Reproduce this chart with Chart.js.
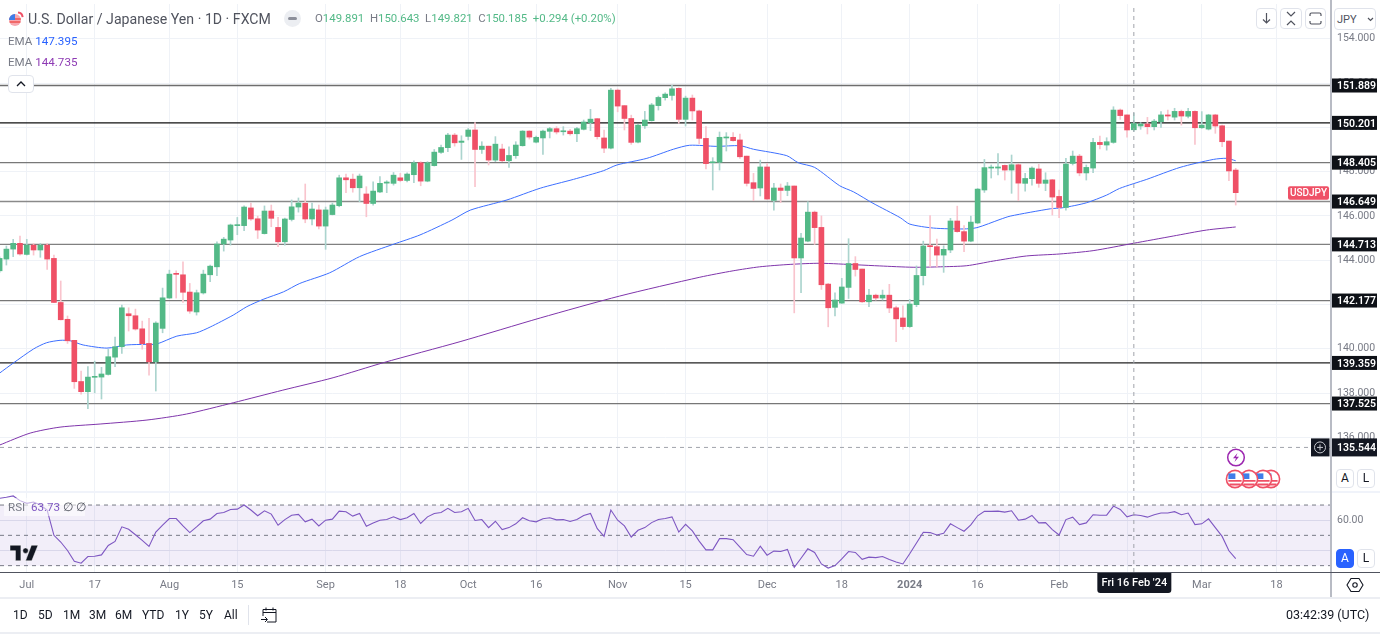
<!DOCTYPE html>
<html><head><meta charset="utf-8">
<script src="https://cdn.jsdelivr.net/npm/chart.js@4"></script>
<style>
html,body{margin:0;padding:0;background:#fff;width:1380px;height:634px;overflow:hidden;font-family:Roboto,"Liberation Sans",sans-serif;color:#131722}
canvas{position:absolute;left:0;display:block}
.t{position:absolute;white-space:pre;line-height:1}
.btn{position:absolute;box-sizing:border-box;background:#fff;border:1px solid #e0e3eb;border-radius:4px;text-align:center}
.ab{position:absolute;box-sizing:border-box;width:18px;height:19px;border:1px solid #e0e3eb;border-radius:4px;background:#fff;font-size:12px;line-height:17px;text-align:center;color:#131722}
svg{position:absolute;overflow:visible}
</style></head><body>
<canvas id="price" style="top:4px;width:1380px;height:488px" width="1380" height="488"></canvas>
<canvas id="rsi" style="top:492px;width:1380px;height:105px" width="1380" height="105"></canvas>

<div style="position:absolute;left:1330px;top:0;width:2px;height:597px;background:#b8bbc4"></div>
<div style="position:absolute;left:0;top:572px;width:1380px;height:1px;background:#50535e"></div>
<div style="position:absolute;left:0;top:491px;width:1330px;height:2px;background:#f0f3fa"></div>
<div style="position:absolute;left:1332px;top:491px;width:48px;height:2px;background:#f0f3fa"></div>
<div style="position:absolute;left:0;top:597px;width:1380px;height:2px;background:#eceef3"></div>
<div style="position:absolute;left:0;top:632px;width:1380px;height:2px;background:#eceef3"></div>

<svg style="left:8px;top:11px" width="16" height="16" viewBox="0 0 16 16">
<circle cx="7" cy="9" r="6" fill="#f7a8b0"/><path d="M1.2 8h11.6M1.6 11h10.8" stroke="#ef5350" stroke-width="1.4"/><path d="M1 9a6 6 0 0 1 6-6v6z" fill="#3f7de8"/>
<path d="M10 1.5a5 5 0 0 1 4.6 4.6" stroke="#ef5066" stroke-width="2" fill="none"/></svg>
<div class="t" style="left:28px;top:12px;font-size:14.15px;color:#50535e">U.S. Dollar / Japanese Yen · 1D · FXCM</div>
<div style="position:absolute;left:284px;top:10px;width:17px;height:17px;border-radius:50%;background:#eceef2"></div>
<div style="position:absolute;left:288px;top:17px;width:9px;height:3px;border-radius:2px;background:#8c8f9a"></div>
<div class="t" style="left:315px;top:13px;font-size:11.4px;color:#787b86">O<span style="color:#53b987">149.891</span>  H<span style="color:#53b987">150.643</span>  L<span style="color:#53b987">149.821</span>  C<span style="color:#53b987">150.185</span>  <span style="color:#53b987">+0.294 (+0.20%)</span></div>
<div class="t" style="left:8px;top:36px;font-size:11.6px;color:#787b86">EMA <span style="color:#2962ff">147.395</span></div>
<div class="t" style="left:8px;top:57px;font-size:11.6px;color:#787b86">EMA <span style="color:#8e3bb4">144.735</span></div>
<div class="btn" style="left:8px;top:75px;width:26px;height:18px"></div>
<svg style="left:16px;top:81px" width="10" height="6"><path d="M1 5l4-4 4 4" stroke="#131722" stroke-width="1.3" fill="none"/></svg>

<div class="btn" style="left:1256px;top:8px;width:21px;height:21px"></div>
<svg style="left:1256px;top:8px" width="21" height="21"><path d="M10.5 5v10M7 11.5l3.5 3.5 3.5-3.5" stroke="#50535e" stroke-width="1.2" fill="none"/></svg>
<div class="btn" style="left:1280px;top:8px;width:22px;height:21px"></div>
<svg style="left:1280px;top:8px" width="22" height="21"><path d="M7 4l4 4 4-4M7 17l4-4 4 4" stroke="#50535e" stroke-width="1.2" fill="none"/></svg>
<div class="btn" style="left:1305px;top:8px;width:21px;height:21px"></div>
<svg style="left:1305px;top:8px" width="21" height="21"><path d="M5 8V6.5A1.5 1.5 0 0 1 6.5 5h8A1.5 1.5 0 0 1 16 6.5V8M5 13v1.5A1.5 1.5 0 0 0 6.5 16h8a1.5 1.5 0 0 0 1.5-1.5V13" stroke="#50535e" stroke-width="1.2" fill="none"/></svg>
<div class="btn" style="left:1334px;top:8px;width:42px;height:22px"></div>
<div class="t" style="left:1337px;top:14px;font-size:11px;color:#50535e">JPY</div>
<svg style="left:1367px;top:17px" width="7" height="5"><path d="M1 1l2.5 2.5L6 1" stroke="#50535e" stroke-width="1.2" fill="none"/></svg>

<svg style="left:1226px;top:448px" width="20" height="20"><circle cx="10" cy="9.5" r="8.3" fill="#fff" stroke="#9c27b0" stroke-width="1.5"/><path d="M11.5 5L7 10.2h3L8.5 14l4.5-5.2h-3z" fill="#9c27b0"/></svg>
<svg id="flags" style="left:1222px;top:466px" width="62" height="26" viewBox="0 0 62 26">
<defs><g id="fl"><circle r="8.6" fill="#fff" stroke="#ef5066" stroke-width="1.6"/><path d="M-6.6 1h13.2v1.8h-13.2zM-5.6 4.6h11.2v1.8h-11.2z" fill="#ef5066"/><path d="M-6.6 -5.6h7v5.6h-7z" fill="#3f7de8"/></g></defs>
<use href="#fl" x="49" y="13"/><use href="#fl" x="41" y="13"/><use href="#fl" x="27" y="13"/><use href="#fl" x="13" y="13"/></svg>

<div class="ab" style="left:1336px;top:469px">A</div><div class="ab" style="left:1357px;top:469px">L</div>
<div class="ab" style="left:1336px;top:549px;background:#2962ff;border-color:#2962ff;color:#fff">A</div><div class="ab" style="left:1357px;top:549px">L</div>

<div style="position:absolute;left:4px;top:498px;width:81px;height:18px;background:rgba(255,255,255,.55)"></div>
<div class="t" style="left:8px;top:502px;font-size:11.6px;color:#787b86">RSI  <span style="color:#7e57c2">63.73</span> <span style="color:#50535e">∅ ∅</span></div>

<svg style="left:10px;top:545px" width="28" height="16" viewBox="0 0 36 20"><path d="M14 20H7V7H0V0h14zM28 20h-8L27.5 0H36zM20 3.5a3.5 3.5 0 1 0 0 7 3.5 3.5 0 0 0 0-7z" fill="#131722" stroke="#fff" stroke-width=".6"/></svg>

<svg style="left:1346px;top:576px" width="18" height="18" viewBox="0 0 18 18"><path d="M5 2.5h8l4 6.5-4 6.5H5L1 9z" fill="none" stroke="#131722" stroke-width="1.1"/><circle cx="9" cy="9" r="2.2" fill="none" stroke="#131722" stroke-width="1.1"/></svg>

<div class="t" style="left:13px;top:609px;font-size:12px">1D</div>
<div class="t" style="left:38px;top:609px;font-size:12px">5D</div>
<div class="t" style="left:63px;top:609px;font-size:12px">1M</div>
<div class="t" style="left:89px;top:609px;font-size:12px">3M</div>
<div class="t" style="left:115px;top:609px;font-size:12px">6M</div>
<div class="t" style="left:142px;top:609px;font-size:12px">YTD</div>
<div class="t" style="left:175px;top:609px;font-size:12px">1Y</div>
<div class="t" style="left:199px;top:609px;font-size:12px">5Y</div>
<div class="t" style="left:224px;top:609px;font-size:12px">All</div>
<div style="position:absolute;left:248px;top:605px;width:1px;height:20px;background:#e0e3eb"></div>
<svg style="left:260px;top:606px" width="18" height="18" viewBox="0 0 18 18"><path d="M3 10V3.5h13V16H7M3 6.5h13M6 1.5v3M13 1.5v3M1 13.5h6M5 11l2.5 2.5L5 16" fill="none" stroke="#131722" stroke-width="1"/></svg>
<div class="t" style="left:1286px;top:609px;font-size:12.5px">03:42:39 (UTC)</div>

<script>
const opens=[143.52,144.05,144.50,144.76,144.26,144.68,144.46,144.68,144.08,142.09,
141.33,140.38,138.52,138.06,138.71,138.72,138.84,139.62,140.09,141.58,
141.49,140.90,140.24,139.41,140.92,142.29,143.40,143.34,142.56,141.66,
142.52,143.34,143.70,144.73,144.91,145.56,145.56,146.36,145.87,145.20,
146.22,145.48,144.83,145.84,146.40,146.57,145.86,146.27,145.54,146.06,
146.46,147.72,147.66,147.27,146.99,146.56,147.08,147.48,147.47,147.72,
147.60,147.86,148.40,147.57,148.27,148.87,149.08,149.65,149.32,149.59,
149.88,149.00,149.15,148.52,149.02,148.49,148.72,149.17,149.83,149.33,
149.52,149.82,149.94,149.80,149.83,149.71,149.91,150.21,150.39,149.52,
149.06,151.68,150.98,150.40,149.33,150.07,150.30,150.98,151.34,151.44,
151.76,150.36,151.32,150.74,149.50,148.40,148.42,149.52,149.55,149.43,
148.70,147.50,147.26,148.21,146.70,147.26,147.15,147.35,144.10,144.86,
146.17,145.48,142.92,141.87,142.06,142.77,143.85,143.60,142.12,142.42,
142.29,142.42,141.85,141.39,141.00,141.99,143.30,144.65,144.61,144.23,
144.46,145.77,145.29,144.86,145.68,147.17,148.16,148.16,148.28,148.07,
148.31,147.47,147.68,148.12,147.47,147.63,146.88,146.38,148.37,148.70,
147.94,148.16,149.32,149.20,149.32,150.78,150.56,149.89,150.06,150.15,
150.03,150.25,150.56,150.46,150.72,150.50,150.72,149.98,149.92,150.56,
150.07,149.38,148.07];
const highs=[144.15,144.64,144.94,145.09,144.94,144.76,144.76,144.76,144.23,143.06,
141.48,140.38,138.99,139.19,139.44,139.16,139.97,140.53,141.97,141.85,
141.79,141.25,141.37,141.22,142.74,143.55,143.52,143.93,142.95,142.65,
143.55,143.78,144.83,145.03,145.63,145.93,146.45,146.58,145.99,146.45,
146.49,145.93,145.90,146.72,146.81,147.44,146.58,146.49,146.40,146.58,
147.84,147.89,147.89,147.89,147.32,147.54,147.77,147.59,147.96,147.92,
147.95,148.49,148.45,148.45,149.00,149.20,149.73,149.73,149.62,149.95,
150.21,149.35,149.15,149.58,149.24,149.12,149.35,149.85,149.85,149.61,
149.88,150.00,150.03,150.03,149.91,150.00,150.33,150.81,150.40,149.88,
151.76,151.73,150.98,150.55,150.13,150.72,151.08,151.41,151.56,151.90,
151.79,151.41,151.46,150.78,150.03,148.63,149.79,149.76,149.76,149.70,
148.70,147.92,148.52,148.37,147.47,147.44,147.51,147.35,145.21,146.64,
146.22,146.00,142.95,142.53,143.18,144.97,144.16,143.60,142.68,142.47,
142.65,142.91,141.93,141.94,142.23,143.74,144.86,146.01,144.95,144.65,
145.89,146.44,145.56,145.99,147.24,148.55,148.30,148.82,148.30,148.75,
148.37,147.92,148.22,148.33,147.95,147.65,147.17,148.60,148.93,148.78,
148.30,149.50,149.61,149.53,150.93,150.83,150.57,150.64,150.21,150.45,
150.36,150.71,150.78,150.86,150.78,150.86,150.75,150.71,150.59,150.59,
150.10,149.38,148.15];
const lows=[143.45,143.78,144.16,144.23,144.23,144.23,144.13,143.58,142.08,141.30,
140.24,138.21,137.95,137.29,138.01,137.73,138.81,139.19,139.79,140.80,
140.84,139.98,138.81,138.09,140.72,142.27,142.29,142.09,141.60,141.52,
142.47,143.03,143.30,144.41,144.68,145.15,145.33,145.80,144.98,145.18,
145.51,144.61,144.68,145.77,146.17,145.69,145.59,145.41,144.49,146.04,
146.41,147.05,147.07,146.64,145.96,146.49,147.05,147.05,147.39,147.54,
147.54,147.50,147.36,147.54,148.25,148.82,148.90,149.15,148.55,149.43,
147.32,148.82,148.30,148.45,148.45,148.19,148.60,149.15,149.47,149.30,
148.78,149.52,149.70,149.65,149.65,149.35,149.88,149.85,149.47,148.85,
149.03,150.70,149.88,149.23,149.30,149.95,150.28,150.78,151.23,151.23,
150.18,150.06,150.33,149.25,148.12,147.17,148.07,148.93,149.38,148.60,
147.35,146.69,146.90,146.74,146.26,146.60,146.91,141.62,142.53,144.83,
144.71,142.68,140.99,141.48,142.05,142.27,143.28,142.09,141.90,142.20,
142.20,141.63,140.32,140.87,140.96,141.90,142.88,143.70,143.70,143.45,
144.34,145.26,144.38,144.83,145.65,147.06,147.71,147.85,147.62,147.02,
146.69,147.12,147.39,147.29,147.14,146.04,145.92,146.26,148.30,147.81,
147.62,147.95,149.02,148.97,149.28,150.36,149.55,149.82,149.91,149.70,
149.88,150.00,150.33,150.33,150.10,150.42,149.23,149.95,149.88,149.73,
149.13,147.59,146.49];
const closes=[144.08,144.50,144.76,144.28,144.68,144.46,144.68,144.05,142.09,141.31,
140.36,138.51,138.06,138.72,138.75,138.86,139.64,140.09,141.85,141.49,
140.89,140.23,139.41,141.16,142.30,143.37,143.36,142.55,141.70,142.53,
143.37,143.73,144.73,144.95,145.59,145.59,146.40,145.86,145.36,146.22,
145.89,144.83,145.86,146.41,146.58,145.86,146.31,145.54,146.27,146.49,
147.72,147.63,147.27,147.80,146.56,147.12,147.47,147.53,147.84,147.60,
147.89,148.40,147.57,148.40,148.88,149.09,149.65,149.30,149.38,149.88,
149.00,149.15,148.52,149.24,148.49,148.73,149.20,149.83,149.56,149.55,
149.83,149.94,149.79,149.83,149.71,149.94,150.24,150.37,149.58,149.06,
151.68,150.96,150.40,149.32,150.10,150.33,151.01,151.35,151.50,151.74,
150.36,151.32,150.74,149.50,148.36,148.43,149.55,149.55,149.40,148.67,
147.47,147.24,148.21,146.76,147.26,147.15,147.35,144.10,145.00,146.17,
145.47,142.89,141.85,142.20,142.79,143.85,143.58,142.12,142.42,142.29,
142.42,141.84,141.35,141.00,142.02,143.31,144.64,144.61,144.23,144.49,
145.77,145.29,144.86,145.72,147.21,148.18,148.19,148.21,148.07,148.31,
147.48,147.69,148.16,147.47,147.62,146.85,146.38,148.34,148.70,147.94,
148.19,149.32,149.22,149.35,150.78,150.53,149.88,150.19,150.15,150.03,
150.28,150.56,150.51,150.72,150.51,150.72,149.98,150.10,150.56,150.06,
149.35,148.03,147.05];
const rsiValues=[74.4,75.1,76,72.9,71.1,72,70,66.7,50,45.6,
40,32.9,31.6,36,36.2,37.1,43.3,46,55.6,54,
50.4,46.7,42.7,52.2,56.7,61.1,61.1,56.2,51.8,55.6,
59.6,60.7,64.4,65.1,67.1,67.3,70,66.7,62.9,66.2,
64,56.7,60.4,63.3,63.8,58.9,60.7,56.2,60,60.7,
66,65.6,62.7,64.4,56,58.2,60,60.4,62.2,60.4,
61.6,64.4,57.8,62.2,64.4,65.1,67.8,65.1,65.6,67.8,
59.8,60.4,55.1,59.3,53.8,55.1,57.6,61.6,59.6,58.9,
60.9,61.6,60.2,60.4,59.1,60.4,63.1,64.4,54.4,49.3,
66.7,60,56.2,48.9,53.3,55.1,58.4,60.4,61.1,62.2,
52.2,57.3,52.9,46.2,40.4,40.4,47.8,47.8,47.1,42.2,
37.3,36.2,42.9,36.9,39.6,39.3,40.7,28.9,34.9,41.1,
38.7,31.1,28.4,30,34.4,39.3,38.7,34.2,35.6,35.3,
36,34,32.4,31.1,37.8,44.9,52,51.8,50.2,51.3,
57.6,55.1,52.7,56.9,62.9,65.8,65.8,66,65.3,66.2,
60,60.7,63.1,58.2,58.4,53.8,50.2,60.4,62,57.1,
58.2,63.6,63.3,63.3,69.3,67.1,62.2,63.6,63.1,62,
63.6,64.7,64.7,65.6,63.6,64.7,57.1,57.6,60.9,55.1,
49.3,39.8,34.7];
const ema50Bars=[0,2,5,6.9,8.9,10.4,12.3,15.8,18.7,21.7,23.1,26.1,29,31,34.4,36.4,38.8,41.8,44.2,48.6,53,58,61.9,66.6,69.3,74.7,79.6,84.5,88.9,90.9,95.3,99.2,101.6,105.6,109,111,115.9,117.6,120,123.7,125.7,128.6,132.6,134,137.5,141.9,143.9,147.3,148.8,154.7,156.6,160,163,164.9,168.9,173.8,178.7,180.7,182];
const ema50Values=[138.90,139.35,139.99,140.27,140.38,140.36,140.17,140.03,140.17,140.20,140.21,140.57,140.72,140.98,141.52,141.90,142.23,142.57,142.95,143.43,144.16,144.72,145.14,145.81,146.26,146.72,147.25,147.65,148.04,148.30,148.60,149.01,149.19,149.14,149.17,149.01,148.72,148.40,148.19,147.36,147.09,146.57,145.92,145.63,145.45,145.41,145.47,145.84,145.99,146.32,146.37,146.59,146.94,147.24,147.65,148.19,148.55,148.60,148.49];
const ema200Bars=[0,4.5,8.9,14.8,21.7,27.5,34.4,41.7,49.1,56.5,67.8,79.6,91.3,103.1,108,111.9,116.4,120.8,126.2,129.6,134.5,138.5,142.4,146.3,151.2,156.1,161,166.9,172.8,177.7,182];
const ema200Values=[135.65,136.19,136.46,136.60,136.78,137.05,137.56,138.13,138.69,139.37,140.32,141.39,142.38,143.23,143.52,143.70,143.81,143.86,143.79,143.74,143.68,143.70,143.75,143.96,144.19,144.28,144.43,144.76,145.09,145.36,145.50];
const levelValues=[151.889,150.201,148.405,146.649,144.713,142.177,139.359,137.525];
const levelColors=['#6e6e6e','#111111','#787878','#8a8a8a','#808080','#777777','#222222','#777777'];
const crossPrice=135.544, crossBar=167;
const priceTicks=[136,138,140,142,144,146,148,150,152,154];
const rsiTicks=[40,60];
const rsiBands=[70,50,30];
const tickBars=[4,14,25,35,48,59,69,79,91,101,113,124,134,144,156,166,177,188];
const tickNames=['Jul','17','Aug','15','Sep','18','Oct','16','Nov','15','Dec','18','2024','16','Feb','15','Mar','18'];
const crossLabel="Fri 16 Feb '24", symbolTag='USDJPY';

const FONT='Roboto,"Liberation Sans",sans-serif';
const GREEN='#53b987',RED='#ef5066',WG='#abd4ce',WR='#f9c4cd',GRID='#eff2f7';
const bars=opens.map((_,i)=>i);
const XMIN=0.059,XMAX=196.03;
const hline=(v,c,w,dash,order)=>({type:'line',data:[{x:XMIN,y:v},{x:XMAX,y:v}],borderColor:c,borderWidth:w,borderDash:dash||[],pointRadius:0,order});
const setXTicks=s=>{s.ticks=tickBars.map(v=>({value:v}));};
const fitY=s=>{s.width=49;s.paddingTop=0;s.paddingBottom=0;if(s._margins){s._margins.top=0;s._margins.bottom=0;}};

const priceLabels={id:'priceLabels',afterDraw(ch){
  const c=ch.ctx,y=ch.scales.y,R=1331;c.save();c.textBaseline='middle';
  const box=(v,bg,h)=>{const p=y.getPixelForValue(v);c.fillStyle=bg;c.fillRect(R,p-h/2,46,h);c.fillStyle='#fff';c.font='600 10.5px '+FONT;c.textAlign='left';c.fillText(v.toFixed(3),R+6,p+1);};
  levelValues.forEach(v=>box(v,'#0e1117',14));
  box(crossPrice,'#131722',18);
  const p=y.getPixelForValue(crossPrice);
  c.fillStyle='#131722';c.fillRect(1311,p-9,18.5,18);
  c.strokeStyle='#c8cad0';c.lineWidth=1;c.beginPath();c.arc(1320,p,5.5,0,7);c.moveTo(1317,p);c.lineTo(1323,p);c.moveTo(1320,p-3);c.lineTo(1320,p+3);c.stroke();
  const q=y.getPixelForValue(closes[closes.length-1]);
  c.fillStyle=RED;c.beginPath();c.roundRect(1288,q-6.5,41,13.5,2);c.fill();
  c.fillStyle='#fff';c.font='500 10px '+FONT;c.textAlign='center';c.fillText(symbolTag,1308.5,q+.5);
  c.restore();
}};
new Chart(document.getElementById('price'),{type:'bar',plugins:[priceLabels],
 data:{datasets:[
  {label:'cross',type:'line',data:[{x:crossBar,y:133.53},{x:crossBar,y:155.57}],borderColor:'#a0a3ab',borderWidth:1,borderDash:[4,4],pointRadius:0,order:0},
  hline(crossPrice,'#a0a3ab',1,[4,4],0),
  {label:'body',data:bars.map(i=>({x:i,y:[opens[i],closes[i]]})),backgroundColor:bars.map(i=>closes[i]>=opens[i]?GREEN:RED),barThickness:5,grouped:false,minBarLength:1,order:1},
  {label:'wick',data:bars.map(i=>({x:i,y:[lows[i],highs[i]]})),backgroundColor:bars.map(i=>closes[i]>=opens[i]?WG:WR),barThickness:1,grouped:false,order:2},
  {label:'EMA 50',type:'line',data:ema50Bars.map((b,i)=>({x:b,y:ema50Values[i]})),borderColor:'#3d6fff',borderWidth:1,pointRadius:0,tension:.25,order:3},
  {label:'EMA 200',type:'line',data:ema200Bars.map((b,i)=>({x:b,y:ema200Values[i]})),borderColor:'#7f35ab',borderWidth:1,pointRadius:0,tension:.25,order:3},
  ...levelValues.map((v,i)=>hline(v,levelColors[i],1.3,[],4))
 ]},
 options:{animation:false,responsive:false,devicePixelRatio:1,layout:{padding:0,autoPadding:false},
  plugins:{legend:{display:false},tooltip:{enabled:false}},
  scales:{
   x:{type:'linear',offset:false,min:XMIN,max:XMAX,afterBuildTicks:setXTicks,ticks:{display:false},grid:{offset:false,color:GRID,drawTicks:false},border:{display:false},afterFit:s=>{s.height=0;}},
   y:{position:'right',min:133.53,max:155.57,afterBuildTicks:s=>{s.ticks=priceTicks.map(v=>({value:v}));},afterFit:fitY,
      ticks:{color:'#787b86',padding:6,font:{size:10.5,family:FONT},callback:v=>v.toFixed(3)},grid:{color:GRID,drawTicks:false},border:{display:false}}
  }}});

const rsiLabels={id:'rsiLabels',afterDraw(ch){
  const c=ch.ctx,x=ch.scales.x.getPixelForValue(crossBar);c.save();
  c.fillStyle='#131722';c.beginPath();c.roundRect(x-36.5,81,74,20,[0,0,3,3]);c.fill();
  c.fillStyle='#fff';c.font='500 11px '+FONT;c.textAlign='center';c.textBaseline='middle';c.fillText(crossLabel,x+.5,91.5);
  c.restore();
}};
new Chart(document.getElementById('rsi'),{type:'line',plugins:[rsiLabels],
 data:{datasets:[
  {label:'cross',data:[{x:crossBar,y:25.8},{x:crossBar,y:78.6}],borderColor:'#a0a3ab',borderWidth:1,borderDash:[4,4],pointRadius:0,order:0},
  {label:'RSI',data:bars.map(i=>({x:i,y:rsiValues[i]})),borderColor:'#7e57c2',borderWidth:1.1,pointRadius:0,tension:0,order:1},
  ...rsiBands.map(v=>hline(v,'#787b86',1,[4,4],2)),
  {label:'band',data:[{x:XMIN,y:rsiBands[0]},{x:XMAX,y:rsiBands[0]}],borderWidth:0,pointRadius:0,fill:{value:rsiBands[2]},backgroundColor:'rgba(126,87,194,0.1)',order:3}
 ]},
 options:{animation:false,responsive:false,devicePixelRatio:1,layout:{padding:0,autoPadding:false},
  plugins:{legend:{display:false},tooltip:{enabled:false}},
  scales:{
   x:{type:'linear',min:XMIN,max:XMAX,afterBuildTicks:setXTicks,afterFit:s=>{s.height=25;},
      ticks:{autoSkip:false,maxRotation:0,color:'#787b86',padding:7,font:c=>({size:11,family:FONT,weight:tickNames[c.index]==='2024'?'bold':'normal'}),callback:(v,i)=>tickNames[i]},
      grid:{color:GRID,drawTicks:false},border:{display:false}},
   y:{position:'right',min:25.8,max:78.6,afterBuildTicks:s=>{s.ticks=rsiTicks.map(v=>({value:v}));},afterFit:fitY,
      ticks:{color:'#787b86',padding:6,font:{size:10.5,family:FONT},callback:v=>v===60?'60.00':''},grid:{color:'#e4e6ef',drawTicks:false},border:{display:false}}
  }}});
</script>
</body></html>
